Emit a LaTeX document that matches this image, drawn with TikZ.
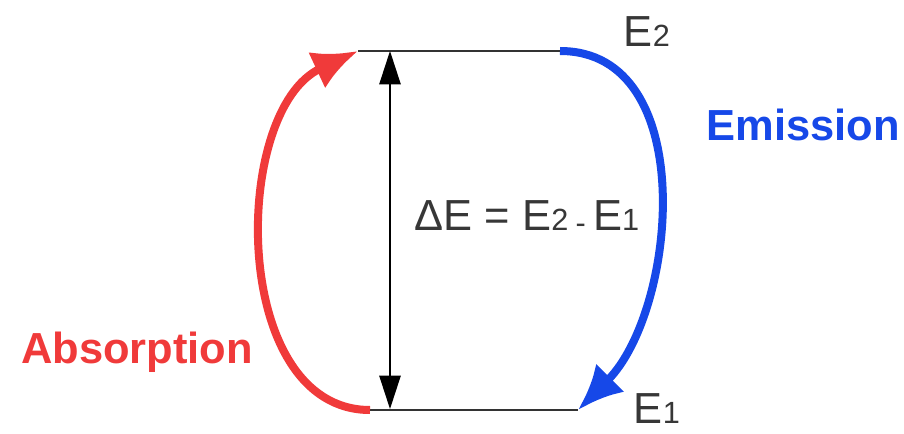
\documentclass[tikz,border=0pt]{standalone}
\usepackage{fontspec}
\setmainfont{Liberation Sans}
\usetikzlibrary{arrows.meta}

\definecolor{absred}{RGB}{240,58,58}
\definecolor{emblue}{RGB}{22,72,232}
\definecolor{txtgray}{RGB}{55,55,55}
\newcommand\lvlidx[1]{{\fontsize{23}{24}\selectfont #1}}

\begin{document}
\begin{tikzpicture}[x=0.75pt, y=0.75pt, >=Latex, thick,
    lbl/.style={font=\fontsize{32.6}{36}\selectfont, inner sep=0pt},
    level/.style={line width=1.5pt, black!80},
    trans/.style={line width=6pt, -{Latex[length=34pt,width=30pt]}}]
    \useasboundingbox (0,0) rectangle (904,433);

    % Level end points (pixels, y up)
    \coordinate (t1) at (358,382);
    \coordinate (t2) at (560,382);
    \coordinate (b1) at (370,23);
    \coordinate (b2) at (578,23);
    \coordinate (up) at (390,382);
    \coordinate (dn) at (390,24);

    % Energy levels
    \draw[level] (t1) -- (t2);
    \draw[level] (b1) -- (b2);

    % Gap Delta E
    \draw[line width=1.1pt, {Triangle[length=25pt,width=16pt]}-{Triangle[length=25pt,width=16pt]}] (dn) -- (up);

    % Absorption (up) and emission (down)
    \draw[trans, absred] (b1) to[out=180, in=205] (t1);
    \draw[trans, emblue] (t2) to[out=0, in=45] (b2);

    % Labels
    \node[lbl, txtgray] (e2) at (647,401) {E\lvlidx{2}};
    \node[lbl, txtgray] (e1) at (657,24) {E\lvlidx{1}};
    \node[lbl, txtgray] (gap) at (527,216) {ΔE = E\lvlidx{2}\,\raisebox{-0.08em}{\lvlidx{-}}\,E\lvlidx{1}};
    \node[lbl, emblue, font=\fontsize{32.6}{36}\bfseries] (em) at (803,308) {Emission};
    \node[lbl, absred, font=\fontsize{32.6}{36}\bfseries] (ab) at (137,81) {Absorption};
\end{tikzpicture}
\end{document}
